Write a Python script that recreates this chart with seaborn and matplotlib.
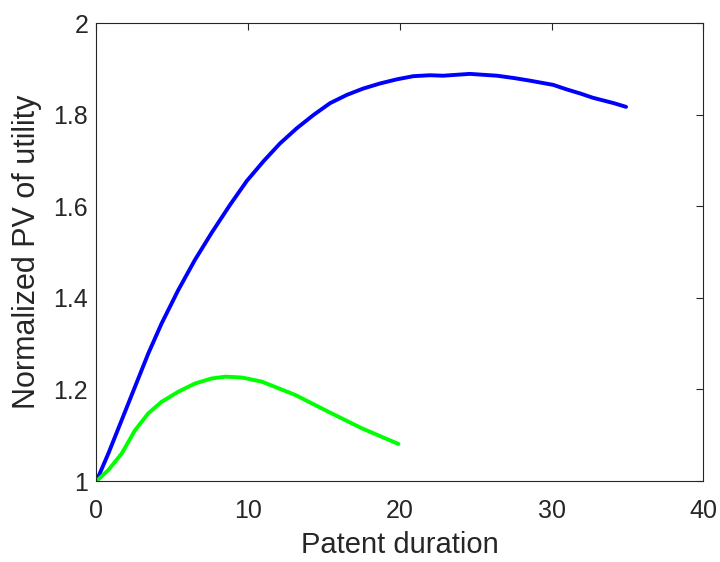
import numpy as np
import pandas as pd
import matplotlib
matplotlib.use("Agg")
import matplotlib.pyplot as plt
import seaborn as sns

blue_x = [0, 0.78, 1.66, 2.54, 3.42, 4.29, 5.39, 6.49, 7.59, 8.8, 9.9, 11.0, 12.09, 13.19, 14.29,
          15.39, 16.49, 17.58, 18.68, 19.78, 20.88, 21.98, 22.85, 24.6, 26.4, 27.5, 28.6, 30.1,
          31.0, 31.9, 32.7, 34.1, 34.9]
blue_y = [1.0, 1.060, 1.133, 1.206, 1.279, 1.344, 1.417, 1.483, 1.542, 1.603, 1.655, 1.698, 1.737,
          1.770, 1.799, 1.825, 1.843, 1.857, 1.868, 1.877, 1.884, 1.886, 1.885, 1.889, 1.885, 1.880,
          1.874, 1.865, 1.855, 1.846, 1.837, 1.825, 1.817]

green_x = [0, 0.78, 1.66, 2.54, 3.42, 4.29, 5.39, 6.49, 7.59, 8.5, 9.6, 10.9, 13.1, 15.3, 17.5, 19.9]
green_y = [1.0, 1.024, 1.060, 1.111, 1.148, 1.173, 1.195, 1.213, 1.224, 1.228, 1.226, 1.217, 1.188,
           1.151, 1.115, 1.081]

xticks = [0, 10, 20, 30, 40]
yticks = [1, 1.2, 1.4, 1.6, 1.8, 2]
ytick_labels = ["1", "1.2", "1.4", "1.6", "1.8", "2"]

df = pd.concat([
    pd.DataFrame({"x": blue_x, "y": blue_y, "s": "blue"}),
    pd.DataFrame({"x": green_x, "y": green_y, "s": "green"}),
])

sns.set_style("white")
plt.rcParams['font.family'] = ['Liberation Sans', 'DejaVu Sans']

fig = plt.figure(figsize=(7.2, 5.62), dpi=100)
ax = fig.add_axes([0.134, 0.144, 0.843, 0.815])
sns.lineplot(data=df, x="x", y="y", hue="s", palette={"blue": "#0000ff", "green": "#00ff00"},
             linewidth=2.8, legend=False, ax=ax, sort=False, estimator=None)
for ln in ax.lines:
    ln.set_solid_joinstyle("round")
    ln.set_solid_capstyle("round")

ax.set_xlim(0, 40)
ax.set_ylim(1, 2)
ax.set_xticks(xticks)
ax.set_yticks(yticks)
ax.set_yticklabels(ytick_labels)
ax.set_xlabel("Patent duration", fontsize=21, color="#262626", labelpad=6)
ax.set_ylabel("Normalized PV of utility", fontsize=22, color="#262626", labelpad=8)
ax.tick_params(axis="both", direction="in", length=5, width=0.8, colors="#262626", labelsize=18,
               top=True, right=True, labeltop=False, labelright=False)
ax.tick_params(axis="x", pad=13)
ax.tick_params(axis="y", pad=6)
for sp in ax.spines.values():
    sp.set_visible(True)
    sp.set_color("#262626")
    sp.set_linewidth(0.8)

fig.savefig("out.png", dpi=100)
